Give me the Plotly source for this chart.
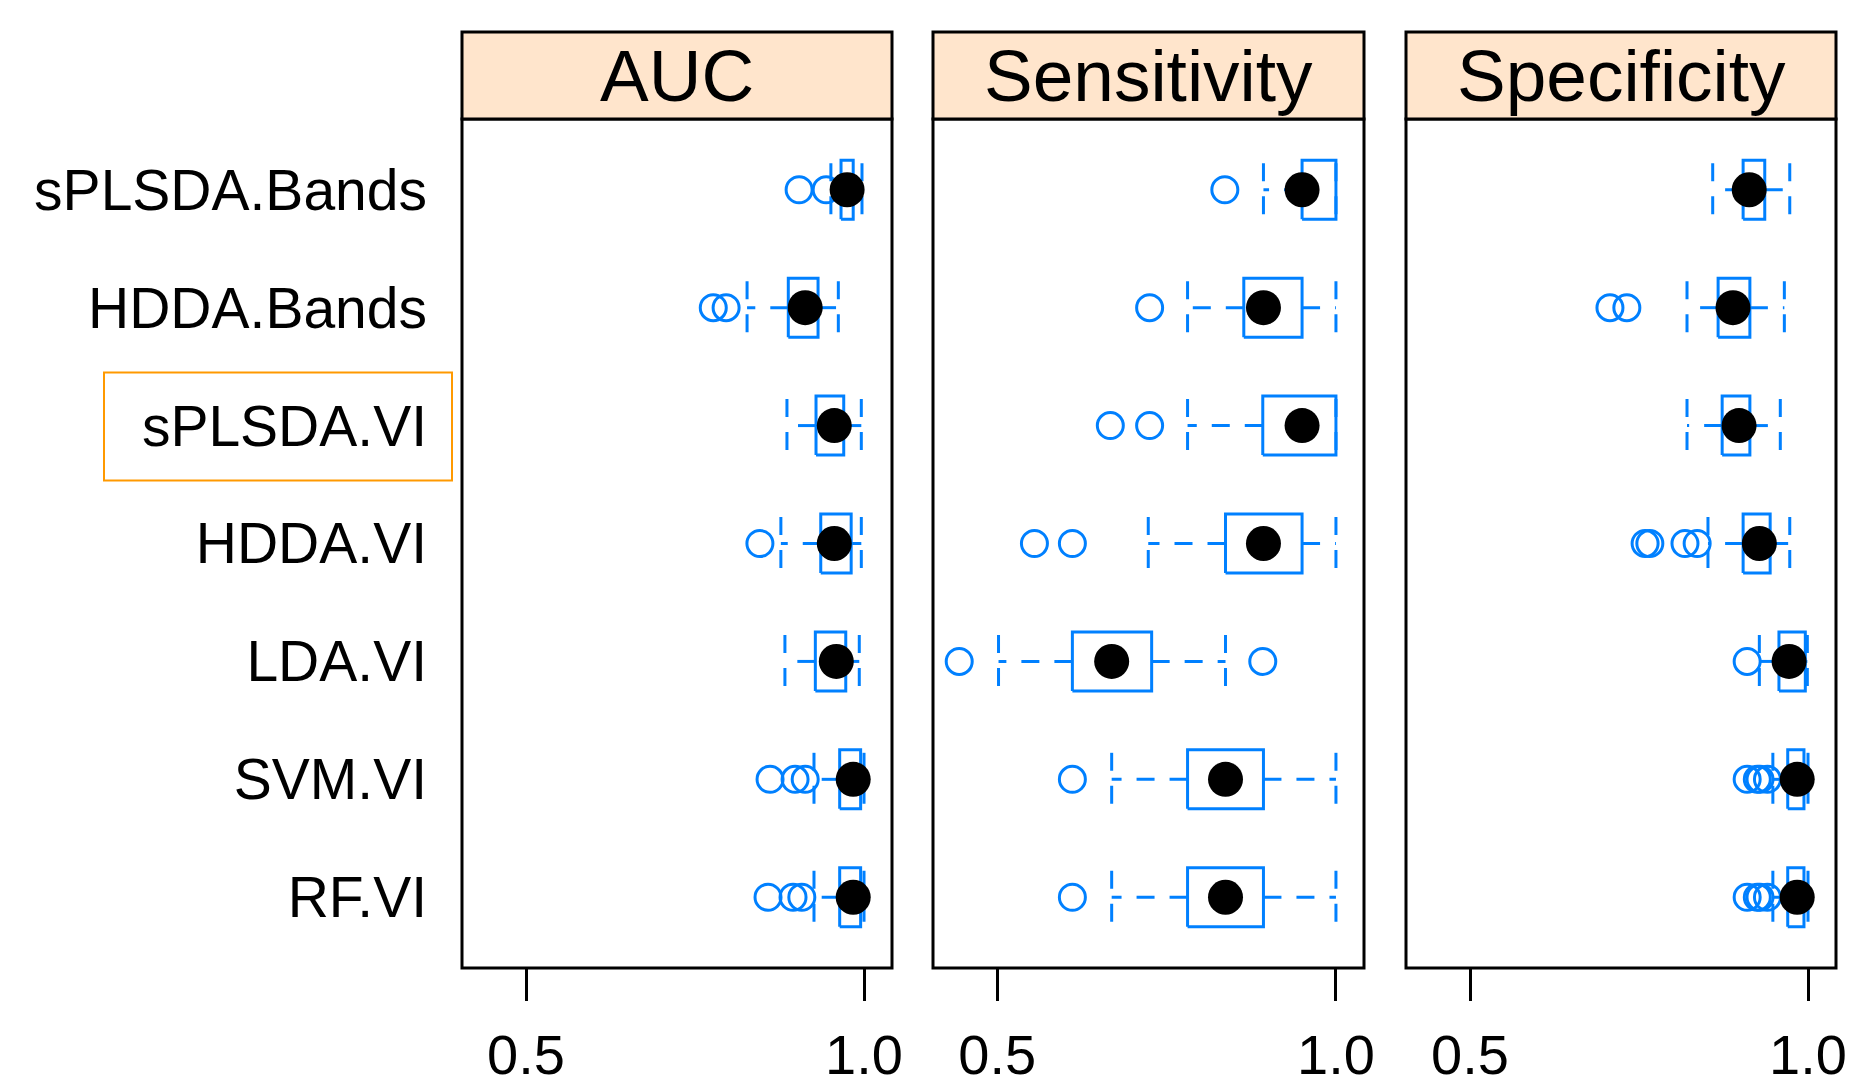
import plotly.graph_objects as go

# ---------------- data ----------------
CATEGORIES = ["sPLSDA.Bands", "HDDA.Bands", "sPLSDA.VI", "HDDA.VI", "LDA.VI", "SVM.VI", "RF.VI"]
HIGHLIGHT = "sPLSDA.VI"
PANELS = ["AUC", "Sensitivity", "Specificity"]
X_TICKS = [0.5, 1.0]
X_TICK_TEXT = ["0.5", "1.0"]

AUC_LOW = [0.951, 0.827, 0.886, 0.877, 0.883, 0.926, 0.926]
AUC_Q1 = [0.966, 0.888, 0.929, 0.936, 0.928, 0.964, 0.964]
AUC_MED = [0.975, 0.913, 0.956, 0.956, 0.959, 0.984, 0.984]
AUC_Q3 = [0.984, 0.932, 0.970, 0.981, 0.973, 0.995, 0.995]
AUC_HIGH = [0.997, 0.962, 0.996, 0.996, 0.993, 1.000, 1.000]
AUC_OUT = [[0.904, 0.944], [0.777, 0.796], [], [0.846], [], [0.861, 0.898, 0.913], [0.858, 0.895, 0.908]]

SEN_LOW = [0.893, 0.781, 0.781, 0.723, 0.502, 0.669, 0.669]
SEN_Q1 = [0.950, 0.864, 0.892, 0.837, 0.611, 0.781, 0.781]
SEN_MED = [0.950, 0.893, 0.950, 0.893, 0.669, 0.837, 0.837]
SEN_Q3 = [1.000, 0.950, 1.000, 0.950, 0.728, 0.893, 0.893]
SEN_HIGH = [1.000, 1.000, 1.000, 1.000, 0.837, 1.000, 1.000]
SEN_OUT = [[0.836], [0.725], [0.667, 0.725], [0.555, 0.611], [0.444, 0.892], [0.611], [0.611]]

SPE_LOW = [0.859, 0.821, 0.821, 0.852, 0.928, 0.948, 0.948]
SPE_Q1 = [0.904, 0.867, 0.873, 0.904, 0.957, 0.970, 0.970]
SPE_MED = [0.913, 0.889, 0.898, 0.928, 0.972, 0.984, 0.984]
SPE_Q3 = [0.936, 0.914, 0.914, 0.944, 0.996, 0.994, 0.994]
SPE_HIGH = [0.973, 0.965, 0.959, 0.973, 0.999, 1.000, 1.000]
SPE_OUT = [[], [0.707, 0.732], [], [0.759, 0.766, 0.818, 0.836], [0.910],
           [0.910, 0.925, 0.929, 0.940], [0.910, 0.925, 0.929, 0.940]]

STATS = {
    "AUC": (AUC_LOW, AUC_Q1, AUC_MED, AUC_Q3, AUC_HIGH, AUC_OUT),
    "Sensitivity": (SEN_LOW, SEN_Q1, SEN_MED, SEN_Q3, SEN_HIGH, SEN_OUT),
    "Specificity": (SPE_LOW, SPE_Q1, SPE_MED, SPE_Q3, SPE_HIGH, SPE_OUT),
}

# ---------------- style ----------------
W, H = 1851, 1088
ML, MR, MT, MB = 462, 15, 32, 120
PANEL_TOP_PX = 119
BLUE = "#0080ff"
STRIP_BG = "#ffe5cc"
FONT = "Liberation Sans, Arial, sans-serif"
DASH = "18px,15px"
LW = 3
BOX_HALF = 0.25
CAP_HALF = 0.225
X_RANGE = [0.4053, 1.0414]
Y_RANGE = [0.4, 7.6]

plot_w = W - ML - MR
plot_h = H - MT - MB
ydom_top = (H - MB - PANEL_TOP_PX) / plot_h
panel_px = [(462, 892), (933, 1364), (1406, 1836)]
domains = [((a - ML) / plot_w, (b - ML) / plot_w) for a, b in panel_px]

n = len(CATEGORIES)
ypos = [n - i for i in range(n)]

fig = go.Figure()
shapes = []
annotations = []

for k, name in enumerate(PANELS):
    xa = "x" if k == 0 else f"x{k + 1}"
    low, q1, med, q3, high, out = STATS[name]

    bx, by = [], []
    wx, wy = [], []
    cx, cy = [], []
    ox, oy = [], []
    for i, y in enumerate(ypos):
        bx += [q1[i], q3[i], q3[i], q1[i], q1[i], None]
        by += [y - BOX_HALF, y - BOX_HALF, y + BOX_HALF, y + BOX_HALF, y - BOX_HALF, None]
        wx += [q1[i], low[i], None, q3[i], high[i], None]
        wy += [y, y, None, y, y, None]
        cx += [low[i], low[i], None, high[i], high[i], None]
        cy += [y + CAP_HALF, y - CAP_HALF, None, y + CAP_HALF, y - CAP_HALF, None]
        for v in out[i]:
            ox.append(v)
            oy.append(y)

    fig.add_trace(go.Scatter(x=wx, y=wy, xaxis=xa, yaxis="y", mode="lines",
                             line=dict(color=BLUE, width=LW, dash=DASH),
                             hoverinfo="skip", showlegend=False))
    fig.add_trace(go.Scatter(x=cx, y=cy, xaxis=xa, yaxis="y", mode="lines",
                             line=dict(color=BLUE, width=LW, dash=DASH),
                             hoverinfo="skip", showlegend=False))
    fig.add_trace(go.Scatter(x=bx, y=by, xaxis=xa, yaxis="y", mode="lines",
                             line=dict(color=BLUE, width=LW),
                             hoverinfo="skip", showlegend=False))
    fig.add_trace(go.Scatter(x=ox, y=oy, xaxis=xa, yaxis="y", mode="markers",
                             marker=dict(symbol="circle-open", size=26, color=BLUE,
                                         line=dict(color=BLUE, width=LW)),
                             showlegend=False))
    fig.add_trace(go.Scatter(x=med, y=ypos, xaxis=xa, yaxis="y", mode="markers",
                             marker=dict(symbol="circle", size=35, color="black"),
                             showlegend=False))

    axis = dict(domain=list(domains[k]), range=X_RANGE, anchor="y",
                tickvals=X_TICKS, ticktext=X_TICK_TEXT, ticks="outside",
                ticklen=32, tickwidth=3, tickcolor="black",
                showgrid=False, zeroline=False, showline=False, automargin=False,
                tickfont=dict(family=FONT, size=56, color="black"),
                ticklabelstandoff=6)
    fig.update_layout(**{("xaxis" if k == 0 else f"xaxis{k + 1}"): axis})

    dref = ("x" if k == 0 else f"x{k + 1}") + " domain"
    # panel border
    shapes.append(dict(type="rect", xref=dref, yref="y domain", x0=0, x1=1, y0=0, y1=1,
                       line=dict(color="black", width=3), layer="above"))
    # strip
    shapes.append(dict(type="rect", xref=dref, yref="paper", x0=0, x1=1, y0=ydom_top, y1=1,
                       fillcolor=STRIP_BG, line=dict(color="black", width=3), layer="above"))
    annotations.append(dict(text=name, xref=dref, yref="paper", x=0.5, y=(ydom_top + 1) / 2,
                            showarrow=False, xanchor="center", yanchor="middle",
                            font=dict(family=FONT, size=73, color="black")))

# orange highlight box around a category label
hy = ypos[CATEGORIES.index(HIGHLIGHT)]
shapes.append(dict(type="rect", xref="paper", yref="y",
                   x0=(104 - ML) / plot_w, x1=(452 - ML) / plot_w,
                   y0=hy - 0.465, y1=hy + 0.45,
                   line=dict(color="#ff9900", width=2)))

fig.update_layout(
    width=W, height=H,
    margin=dict(l=ML, r=MR, t=MT, b=MB, pad=0, autoexpand=False),
    paper_bgcolor="white", plot_bgcolor="white",
    yaxis=dict(domain=[0, ydom_top], range=Y_RANGE, tickvals=ypos, ticktext=CATEGORIES,
               ticks="", showgrid=False, zeroline=False, showline=False, anchor="x",
               automargin=False,
               tickfont=dict(family=FONT, size=57, color="black"),
               ticklabelstandoff=34),
    shapes=shapes, annotations=annotations, showlegend=False,
)

fig.write_html("out.html", config={"displayModeBar": False},
               post_script="document.body.style.margin='0px';")
